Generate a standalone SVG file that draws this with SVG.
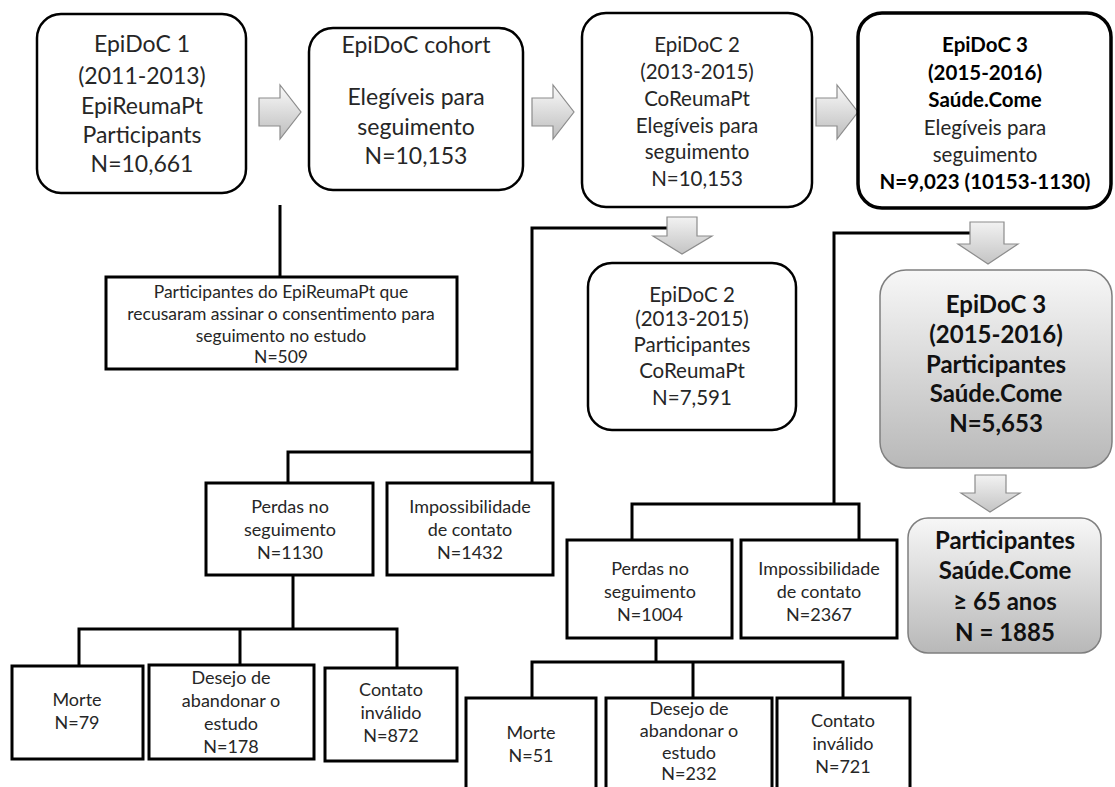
<svg xmlns="http://www.w3.org/2000/svg" width="1115" height="787" viewBox="0 0 1115 787">
<defs>
<style>
.rb{fill:#fff;stroke:#000;stroke-width:2.5}
.rb3{fill:#fff;stroke:#000;stroke-width:3.5}
.sq{fill:#fff;stroke:#000;stroke-width:3}
.gb{fill:url(#gg);stroke:#7f7f7f;stroke-width:1.5}
.ar{fill:url(#ga);stroke:#8c8c8c;stroke-width:1.2}
.ard{fill:url(#gd);stroke:#8c8c8c;stroke-width:1.2}
.cn{fill:none;stroke:#000;stroke-width:3}
text{font-family:Lato,"Liberation Sans",sans-serif;fill:#262626;text-anchor:middle}
.t23{font-size:23px}
.t20{font-size:20.5px}
.t17{font-size:18px}
.t16{font-size:17.5px}
.b{font-weight:bold;fill:#000}
.gt{font-size:24px;font-weight:bold;fill:#111}
</style>
<linearGradient id="ga" x1="0" y1="0" x2="0" y2="1">
<stop offset="0" stop-color="#fafafa"/><stop offset="1" stop-color="#bdbdbd"/>
</linearGradient>
<linearGradient id="gd" x1="0" y1="0" x2="0" y2="1">
<stop offset="0" stop-color="#f2f2f2"/><stop offset="1" stop-color="#c4c4c4"/>
</linearGradient>
<linearGradient id="gg" x1="0" y1="0" x2="0" y2="1">
<stop offset="0" stop-color="#f7f7f7"/><stop offset="1" stop-color="#b8b8b8"/>
</linearGradient>
</defs>

<g id="connectors">
<path class="cn" d="M280,205 V277"/>
<path class="cn" d="M667,228 H532 V483"/>
<path class="cn" d="M288,483 V452 H532"/>
<path class="cn" d="M293,575 V629"/>
<path class="cn" d="M79,666 V629 H397 V668"/>
<path class="cn" d="M240,629 V665"/>
<path class="cn" d="M970,233 H834 V504"/>
<path class="cn" d="M632,540 V504 H859 V540"/>
<path class="cn" d="M656,638 V662"/>
<path class="cn" d="M532,698 V662 H843 V698"/>
<path class="cn" d="M693,662 V698"/>
<path class="ar" d="M259,98 H280 V85 L301,112 L280,139 V126 H259 Z"/>
<path class="ar" d="M532,98 H553 V85 L574,112 L553,139 V126 H532 Z"/>
<path class="ar" d="M816,98 H837 V85 L858,112 L837,139 V126 H816 Z"/>
<path class="ard" d="M667,217 H697 V236 H712 L682,254 L653,236 H667 Z"/>
<path class="ard" d="M970,222 H1004 V244 H1018 L988,264 L958,244 H970 Z"/>
<path class="ard" d="M975,475 H1006 V493 H1020 L990,512 L961,493 H975 Z"/>
</g>

<g id="epidoc1">
<rect class="rb" x="37" y="14" width="209" height="179" rx="24"/>
<text class="t23" x="142" y="52">EpiDoC 1</text>
<text class="t23" x="142" y="84">(2011-2013)</text>
<text class="t23" x="142" y="114">EpiReumaPt</text>
<text class="t23" x="142" y="143">Participants</text>
<text class="t23" x="142" y="172">N=10,661</text>
</g>

<g id="cohort">
<rect class="rb" x="309" y="28" width="214" height="162" rx="24"/>
<text class="t23" x="416" y="53">EpiDoC cohort</text>
<text class="t23" x="416" y="105">Elegíveis para</text>
<text class="t23" x="416" y="135">seguimento</text>
<text class="t23" x="416" y="164">N=10,153</text>
</g>

<g id="epidoc2">
<rect class="rb" x="582" y="13" width="230" height="194" rx="24"/>
<text class="t20" x="697" y="52">EpiDoC 2</text>
<text class="t20" x="697" y="79">(2013-2015)</text>
<text class="t20" x="697" y="106">CoReumaPt</text>
<text class="t20" x="697" y="133">Elegíveis para</text>
<text class="t20" x="697" y="159">seguimento</text>
<text class="t20" x="697" y="186">N=10,153</text>
</g>

<g id="epidoc3">
<rect class="rb3" x="858" y="13" width="253" height="195" rx="24"/>
<text class="t20 b" x="985" y="52">EpiDoC 3</text>
<text class="t20 b" x="985" y="80">(2015-2016)</text>
<text class="t20 b" x="985" y="107">Saúde.Come</text>
<text class="t20" x="985" y="135">Elegíveis para</text>
<text class="t20" x="985" y="162">seguimento</text>
<text class="t20 b" x="985" y="189">N=9,023 (10153-1130)</text>
</g>

<g id="recusaram">
<rect class="sq" x="106" y="277" width="351" height="92"/>
<text class="t16" x="281" y="298">Participantes do EpiReumaPt  que</text>
<text class="t16" x="281" y="320">recusaram assinar o consentimento para</text>
<text class="t16" x="281" y="342">seguimento no estudo</text>
<text class="t16" x="281" y="363">N=509</text>
</g>

<g id="epidoc2-part">
<rect class="rb" x="588" y="263" width="208" height="167" rx="24"/>
<text class="t20" x="692" y="302">EpiDoC 2</text>
<text class="t20" x="692" y="326">(2013-2015)</text>
<text class="t20" x="692" y="352">Participantes</text>
<text class="t20" x="692" y="378">CoReumaPt</text>
<text class="t20" x="692" y="405">N=7,591</text>
</g>

<g id="epidoc3-part">
<rect class="gb" x="880" y="270" width="232" height="198" rx="26"/>
<text class="gt" x="996" y="313">EpiDoC 3</text>
<text class="gt" x="996" y="343">(2015-2016)</text>
<text class="gt" x="996" y="373">Participantes</text>
<text class="gt" x="996" y="402">Saúde.Come</text>
<text class="gt" x="996" y="432">N=5,653</text>
</g>

<g id="idosos">
<rect class="gb" x="908" y="518" width="193" height="135" rx="20"/>
<text class="gt" x="1005" y="549">Participantes</text>
<text class="gt" x="1005" y="579">Saúde.Come</text>
<text class="gt" x="1005" y="610">≥ 65 anos</text>
<text class="gt" x="1005" y="641">N = 1885</text>
</g>

<g id="perdas1">
<rect class="sq" x="206" y="483" width="167" height="92"/>
<text class="t17" x="290" y="513">Perdas no</text>
<text class="t17" x="290" y="536">seguimento</text>
<text class="t17" x="290" y="559">N=1130</text>
</g>

<g id="imposs1">
<rect class="sq" x="387" y="483" width="166" height="92"/>
<text class="t17" x="470" y="513">Impossibilidade</text>
<text class="t17" x="470" y="536">de contato</text>
<text class="t17" x="470" y="559">N=1432</text>
</g>

<g id="morte1">
<rect class="sq" x="12" y="666" width="131" height="93"/>
<text class="t17" x="77" y="706">Morte</text>
<text class="t17" x="77" y="729">N=79</text>
</g>

<g id="desejo1">
<rect class="sq" x="149" y="665" width="165" height="94"/>
<text class="t17" x="231" y="684">Desejo de</text>
<text class="t17" x="231" y="707">abandonar o</text>
<text class="t17" x="231" y="730">estudo</text>
<text class="t17" x="231" y="753">N=178</text>
</g>

<g id="contato1">
<rect class="sq" x="325" y="668" width="132" height="93"/>
<text class="t17" x="391" y="696">Contato</text>
<text class="t17" x="391" y="719">inválido</text>
<text class="t17" x="391" y="742">N=872</text>
</g>

<g id="perdas2">
<rect class="sq" x="567" y="540" width="165" height="98"/>
<text class="t17" x="650" y="575">Perdas no</text>
<text class="t17" x="650" y="598">seguimento</text>
<text class="t17" x="650" y="621">N=1004</text>
</g>

<g id="imposs2">
<rect class="sq" x="741" y="540" width="156" height="98"/>
<text class="t17" x="819" y="575">Impossibilidade</text>
<text class="t17" x="819" y="598">de contato</text>
<text class="t17" x="819" y="621">N=2367</text>
</g>

<g id="morte2">
<rect class="sq" x="466" y="698" width="130" height="110"/>
<text class="t17" x="531" y="739">Morte</text>
<text class="t17" x="531" y="762">N=51</text>
</g>

<g id="desejo2">
<rect class="sq" x="606" y="698" width="166" height="110"/>
<text class="t17" x="689" y="715">Desejo de</text>
<text class="t17" x="689" y="737">abandonar o</text>
<text class="t17" x="689" y="759">estudo</text>
<text class="t17" x="689" y="780">N=232</text>
</g>

<g id="contato2">
<rect class="sq" x="777" y="698" width="133" height="110"/>
<text class="t17" x="843" y="727">Contato</text>
<text class="t17" x="843" y="750">inválido</text>
<text class="t17" x="843" y="773">N=721</text>
</g>
</svg>
